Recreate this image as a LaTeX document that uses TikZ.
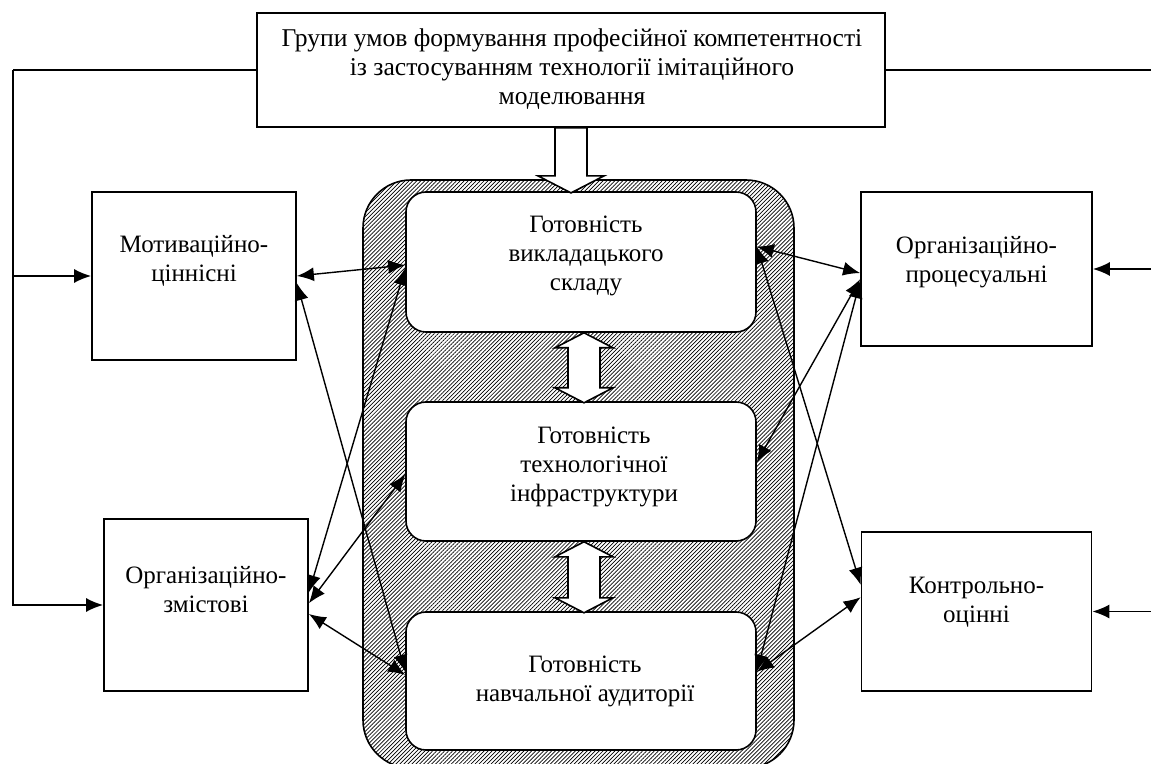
\documentclass[tikz,border=0pt]{standalone}
\usepackage{fontspec}
\setmainfont{Liberation Serif}
\usetikzlibrary{arrows.meta,patterns.meta}

\begin{document}
\begin{tikzpicture}[x=0.5pt,y=-0.5pt,>={Latex[length=8.5pt,width=7pt]},
  font=\fontsize{12.5pt}{14.5pt}\selectfont,
  grp/.style={draw,line width=0.9pt,inner sep=0pt},
  ready/.style={draw,line width=0.8pt,fill=white,rounded corners=10pt,
    minimum width=175pt,inner sep=0pt},
  frame/.style={draw,line width=0.8pt,rounded corners=24pt,inner sep=0pt,
    pattern={Lines[angle=45,distance=1.4pt,line width=0.35pt]}},
  txt/.style={align=center,inner sep=0pt},
  link/.style={line width=0.7pt,<->},
  feed/.style={line width=0.75pt},
  hollow/.style={draw,line width=0.8pt,fill=white,line join=miter}]
\useasboundingbox (0,0) rectangle (1151,764);
\clip (0,0) rectangle (1151,764);

\node[grp,minimum width=314pt,minimum height=57pt] (grp) at (571,70) {};
\node[txt,font=\fontsize{12.8pt}{14.5pt}\selectfont] (grpT) at (572,69) {Групи умов формування професійної компетентності\\із застосуванням технології імітаційного\\моделювання};

\node[frame,minimum width=215.5pt,minimum height=294pt] (fr) at (578.5,474) {};

\node[ready,minimum height=70pt] (v1) at (581,262) {};
\node[txt] (v1T) at (586,256) {Готовність\\викладацького\\складу};
\node[ready,minimum height=69.5pt] (v2) at (581,471.5) {};
\node[txt] (v2T) at (594,467) {Готовність\\технологічної\\інфраструктури};
\node[ready,minimum height=69pt] (v3) at (581,681) {};
\node[txt] (v3T) at (585,681) {Готовність\\навчальної аудиторії};

\node[grp,minimum width=102pt,minimum height=84pt] (mot) at (194,276) {};
\node[txt] (motT) at (194,261) {Мотиваційно-\\ціннісні};
\node[grp,minimum width=102pt,minimum height=86pt] (oz) at (206,605) {};
\node[txt] (ozT) at (206,590) {Організаційно-\\змістові};
\node[grp,minimum width=115.5pt,minimum height=77pt] (op) at (976.5,269) {};
\node[txt] (opT) at (976.5,262) {Організаційно-\\процесуальні};
\node[grp,minimum width=115pt,minimum height=79.5pt] (ko) at (976.5,611.5) {};
\node[txt] (koT) at (976.5,602) {Контрольно-\\оцінні};

\coordinate (lft) at (13,70);
\coordinate (rgt) at (1160,70);

\draw[hollow] (grp.south) ++(16,0) -- ++(0,48) -- ++(17,0) -- ++(-33,17) -- ++(-33,-17) -- ++(17,0) -- ++(0,-48) -- cycle;
\draw[hollow] (v1.south) ++(3,0) -- ++(29,15) -- ++(-13,0) -- ++(0,40) -- ++(13,0) -- ++(-29,15) -- ++(-29,-15) -- ++(13,0) -- ++(0,-40) -- ++(-13,0) -- cycle;
\draw[hollow] (v2.south) ++(3,0) -- ++(29,15) -- ++(-13,0) -- ++(0,41) -- ++(13,0) -- ++(-29,15) -- ++(-29,-15) -- ++(13,0) -- ++(0,-41) -- ++(-13,0) -- cycle;

\draw[feed] (grp.west) -- (lft);
\draw[feed,->] (lft) |- (mot.west);
\draw[feed,->] (lft) |- (oz.west);
\draw[feed] (grp.east) -- (rgt);
\draw[feed,->] (rgt) |- (op.east);
\draw[feed,->] (rgt) |- (ko.east);

\draw[link] (mot.east) -- (v1.181);
\draw[link] (mot.356) -- (v3.177);
\draw[link] (v1.182) -- (oz.7);
\draw[link] (v2.181) -- (oz.1);
\draw[link] (v3.178) -- (oz.355);

\draw[link] (v1.5) -- (op.182);
\draw[link] (v1.5) -- (ko.167);
\draw[link] (v2.3) -- (op.185);
\draw[link] (v3.3) -- (op.186);
\draw[link] (v3.3) -- (ko.173);
\end{tikzpicture}
\end{document}
